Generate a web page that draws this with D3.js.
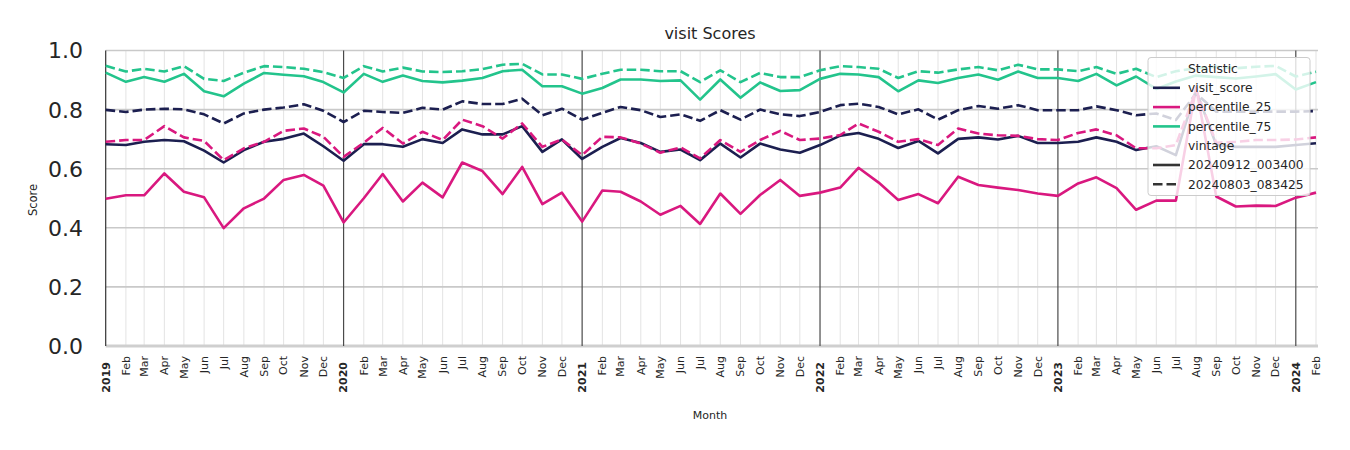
<!DOCTYPE html>
<html><head><meta charset="utf-8">
<script src="https://cdn.jsdelivr.net/npm/d3@7"></script>
<style>body{margin:0;background:#fff;} text{font-family:"DejaVu Sans",sans-serif;}</style>
</head><body>
<svg id="chart" width="1350" height="450"></svg>
<script>
const monthStarts = d3.timeMonths(new Date(2019,0,1), new Date(2024,2,1)); // 62 months
const yTicks = [0.0,0.2,0.4,0.6,0.8,1.0];
const monthNames = ["","Feb","Mar","Apr","May","Jun","Jul","Aug","Sep","Oct","Nov","Dec"];

const visitScoreNew = [0.683,0.680,0.691,0.697,0.693,0.661,0.621,0.663,0.691,0.701,0.719,0.676,
0.627,0.683,0.683,0.674,0.700,0.687,0.733,0.716,0.716,0.744,0.657,0.699,
0.633,0.674,0.704,0.687,0.657,0.665,0.629,0.685,0.638,0.685,0.665,0.654,
0.680,0.712,0.721,0.701,0.670,0.694,0.652,0.701,0.706,0.699,0.711,0.687,
0.687,0.691,0.706,0.691,0.663,0.676,0.646,0.865,0.680,0.674,0.674,0.674,0.680,0.686];
const visitScoreOld = [0.799,0.792,0.800,0.803,0.801,0.784,0.753,0.787,0.800,0.807,0.818,0.796,
0.758,0.796,0.792,0.789,0.806,0.800,0.828,0.819,0.819,0.837,0.781,0.803,
0.766,0.789,0.809,0.798,0.775,0.784,0.762,0.798,0.766,0.800,0.784,0.778,
0.792,0.815,0.820,0.809,0.784,0.801,0.766,0.798,0.812,0.803,0.815,0.798,
0.798,0.798,0.811,0.798,0.781,0.787,0.765,0.855,0.793,0.793,0.793,0.793,0.793,0.795];
const p25New = [0.498,0.510,0.510,0.584,0.522,0.503,0.399,0.466,0.499,0.562,0.579,0.543,
0.418,0.500,0.582,0.489,0.553,0.503,0.621,0.592,0.514,0.606,0.480,0.519,
0.421,0.526,0.522,0.489,0.444,0.474,0.413,0.516,0.447,0.511,0.562,0.508,
0.519,0.536,0.603,0.553,0.494,0.514,0.483,0.573,0.545,0.536,0.528,0.516,
0.508,0.550,0.571,0.534,0.461,0.492,0.492,0.875,0.506,0.472,0.475,0.474,0.502,0.519];
const p25Old = [0.691,0.697,0.697,0.744,0.706,0.694,0.629,0.669,0.691,0.728,0.736,0.708,
0.640,0.688,0.738,0.685,0.725,0.697,0.766,0.744,0.702,0.753,0.674,0.699,
0.646,0.708,0.706,0.685,0.654,0.672,0.635,0.697,0.657,0.697,0.728,0.697,
0.702,0.714,0.753,0.725,0.691,0.700,0.680,0.736,0.719,0.713,0.711,0.700,
0.697,0.721,0.733,0.713,0.669,0.669,0.680,0.865,0.688,0.691,0.697,0.697,0.699,0.706];
const p75New = [0.925,0.894,0.910,0.894,0.921,0.862,0.845,0.888,0.924,0.918,0.913,0.893,
0.858,0.921,0.894,0.915,0.897,0.892,0.898,0.907,0.930,0.935,0.879,0.879,
0.854,0.873,0.902,0.902,0.897,0.899,0.834,0.902,0.840,0.892,0.863,0.866,
0.904,0.921,0.919,0.910,0.862,0.899,0.890,0.907,0.919,0.901,0.929,0.907,
0.907,0.897,0.921,0.882,0.912,0.870,0.895,0.915,0.910,0.905,0.912,0.920,0.868,0.893];
const p75Old = [0.948,0.929,0.938,0.929,0.947,0.904,0.897,0.925,0.947,0.944,0.938,0.927,
0.907,0.947,0.929,0.942,0.929,0.927,0.930,0.937,0.952,0.955,0.919,0.919,
0.904,0.921,0.935,0.935,0.930,0.930,0.893,0.933,0.893,0.924,0.910,0.910,
0.933,0.947,0.944,0.938,0.907,0.930,0.925,0.936,0.944,0.933,0.952,0.936,
0.936,0.930,0.944,0.921,0.938,0.910,0.930,0.940,0.945,0.940,0.945,0.948,0.912,0.928];

const statistics = ["visit_score","percentile_25","percentile_75"];
const vintages = ["20240912_003400","20240803_083425"];
const colors = {visit_score:"#1c1f50", percentile_25:"#d9187f", percentile_75:"#23c48c"};
const seriesTable = [
  {stat:"visit_score", vintage:vintages[0], values:visitScoreNew},
  {stat:"percentile_25", vintage:vintages[0], values:p25New},
  {stat:"percentile_75", vintage:vintages[0], values:p75New},
  {stat:"visit_score", vintage:vintages[1], values:visitScoreOld},
  {stat:"percentile_25", vintage:vintages[1], values:p25Old},
  {stat:"percentile_75", vintage:vintages[1], values:p75Old}
];

const svg = d3.select("#chart");
const L = 105.7, R = 1316, T = 50.5, B = 346;
const x = d3.scaleTime().domain([monthStarts[0], monthStarts[monthStarts.length-1]]).range([L, R]);
const y = d3.scaleLinear().domain([0,1]).range([B, T]);

// monthly grid
svg.append("g").selectAll("line").data(monthStarts.filter(d=>d.getMonth()!==0)).join("line")
  .attr("x1",d=>x(d)).attr("x2",d=>x(d)).attr("y1",T).attr("y2",B)
  .attr("stroke","#e3e3e3").attr("stroke-width",1);
// horizontal grid
svg.append("g").selectAll("line").data(yTicks).join("line")
  .attr("x1",L).attr("x2",R+2).attr("y1",d=>y(d)).attr("y2",d=>y(d))
  .attr("stroke",d=>d===0?"#cfcfcf":"#c9c9c9").attr("stroke-width",d=>d===0?3:1.6);
// year lines
svg.append("g").selectAll("line").data(monthStarts.filter(d=>d.getMonth()===0)).join("line")
  .attr("x1",d=>x(d)).attr("x2",d=>x(d)).attr("y1",T).attr("y2",B)
  .attr("stroke",(d,i)=>i===0?"#333":"#4a4a4a").attr("stroke-width",1.2);

// y axis labels
svg.append("g").selectAll("text").data(yTicks).join("text")
  .attr("x",83).attr("y",d=>y(d)).attr("dy","0.36em").attr("text-anchor","end")
  .attr("font-size",22).attr("fill","#262626").text(d=>d.toFixed(1));

// x axis labels
svg.append("g").selectAll("text").data(monthStarts).join("text")
  .attr("transform",d=>`translate(${x(d)},${d.getMonth()===0?362:356}) rotate(-90)`)
  .attr("dy","0.35em").attr("text-anchor","end")
  .attr("font-size",11).attr("font-weight",d=>d.getMonth()===0?"bold":"normal")
  .attr("fill","#262626")
  .text(d=>d.getMonth()===0?d.getFullYear():monthNames[d.getMonth()]);

// lines
const line = d3.line().x((d,i)=>x(monthStarts[i])).y(d=>y(d));
svg.append("g").selectAll("path").data(seriesTable).join("path")
  .attr("d",d=>line(d.values)).attr("fill","none")
  .attr("stroke",d=>colors[d.stat]).attr("stroke-width",2.6)
  .attr("stroke-linejoin","round")
  .attr("stroke-dasharray",d=>d.vintage===vintages[1]?"9.5,4":null);

// title & axis titles
svg.append("text").attr("x",710).attr("y",39).attr("text-anchor","middle").attr("font-size",16).attr("fill","#262626").text("visit Scores");
svg.append("text").attr("x",710).attr("y",419).attr("text-anchor","middle").attr("font-size",11).attr("fill","#262626").text("Month");
svg.append("text").attr("transform","translate(37,200) rotate(-90)").attr("text-anchor","middle").attr("font-size",11.5).attr("fill","#262626").text("Score");

// legend
const lg = svg.append("g");
lg.append("rect").attr("x",1148).attr("y",57.5).attr("width",162).attr("height",138).attr("rx",3)
  .attr("fill","rgba(255,255,255,0.8)").attr("stroke","#cccccc").attr("stroke-width",1);
const legendRows = [
  {label:"Statistic", title:true},
  ...statistics.map(s=>({label:s, color:colors[s], dash:null})),
  {label:"vintage", title:true},
  {label:vintages[0], color:"#333", dash:null},
  {label:vintages[1], color:"#333", dash:"9.5,4"}
];
legendRows.forEach((r,i)=>{
  const cy = 68.5 + i*19.3;
  if(!r.title){
    lg.append("line").attr("x1",1153).attr("x2",1180).attr("y1",cy).attr("y2",cy)
      .attr("stroke",r.color).attr("stroke-width",2.6).attr("stroke-dasharray",r.dash);
  }
  lg.append("text").attr("x",1188).attr("y",cy).attr("dy","0.35em").attr("font-size",12.3)
    .attr("fill","#262626").text(r.label);
});
</script>
</body></html>
